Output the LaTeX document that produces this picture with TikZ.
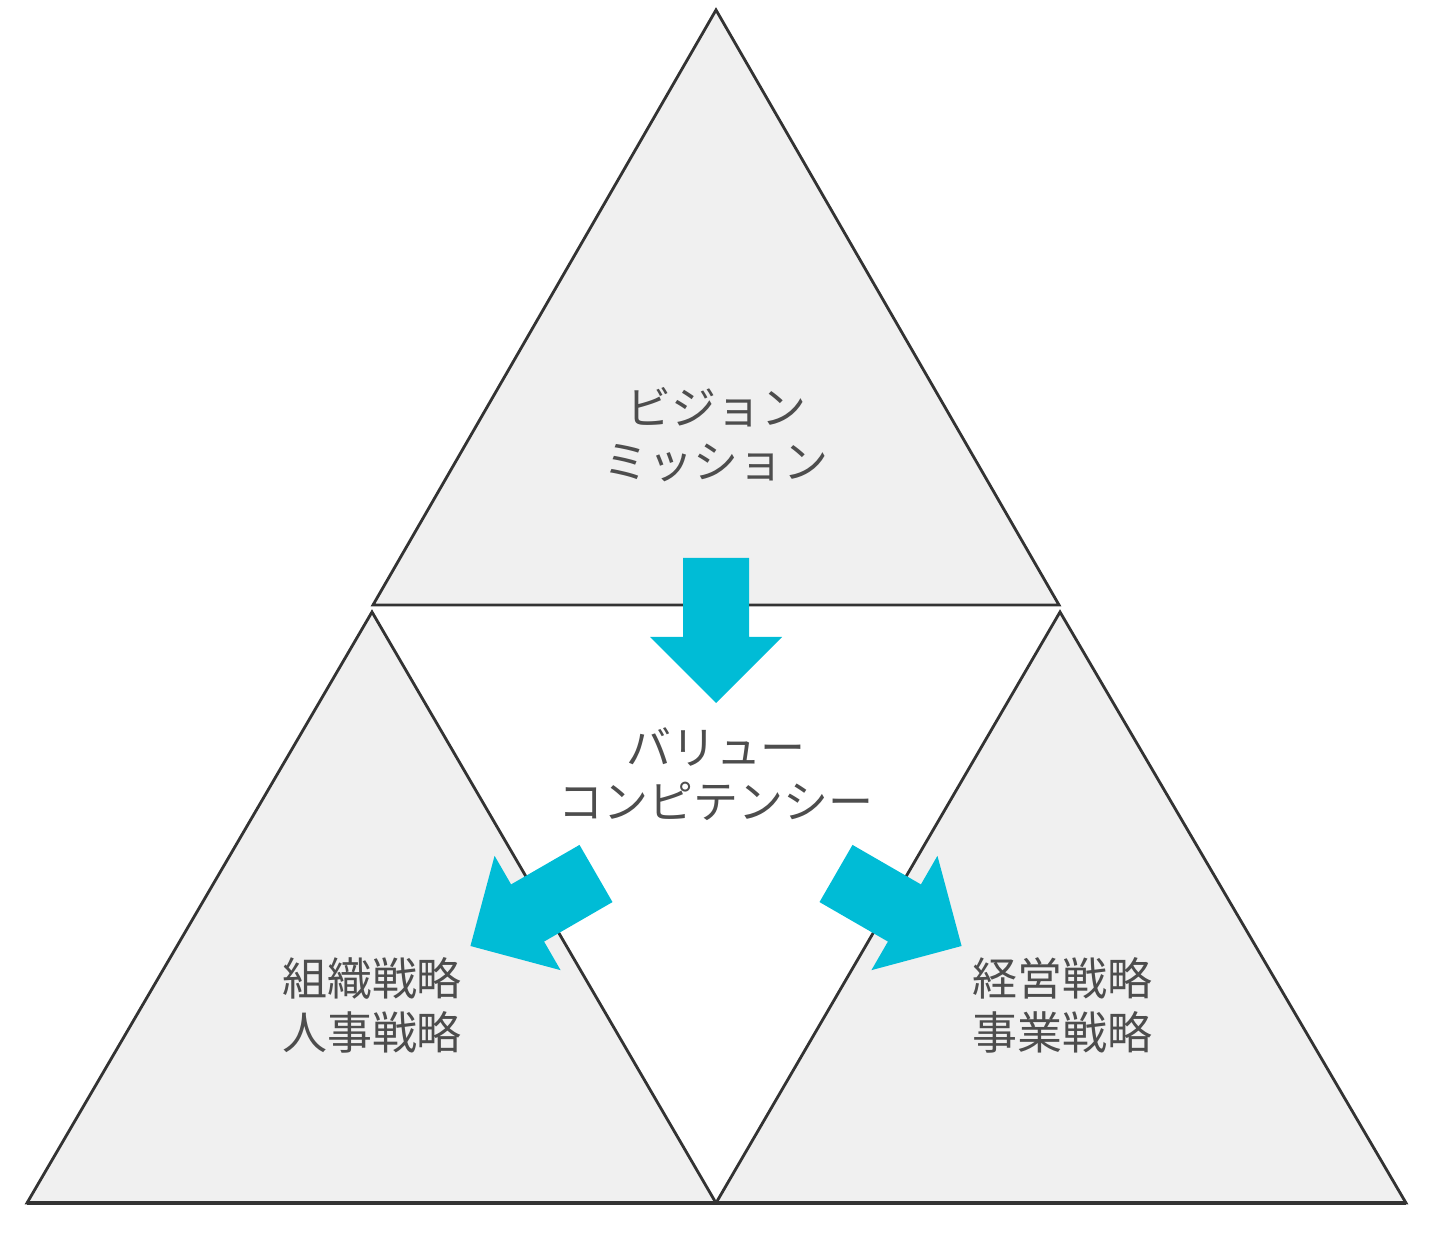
\documentclass[tikz,border=0pt]{standalone}
\usepackage{fontspec}
\newfontfamily\jpfont{Noto Sans CJK JP}
\usepackage{tikz}

\definecolor{tricyan}{HTML}{00BCD6}
\definecolor{trigrey}{HTML}{F0F0F0}
\definecolor{triline}{HTML}{333333}
\definecolor{labelgrey}{HTML}{4D4D4D}

\tikzset{
  tri/.style={fill=trigrey, draw=triline, line width=0.8pt},
  lbl/.style={align=center, text=labelgrey, font=\jpfont\fontsize{12.8}{15.4}\selectfont},
  pics/fatarrow/.style={code={
    \fill[tricyan] (0,-33) -- (79,-33) -- (79,-66) -- (145,0) -- (79,66) -- (79,33) -- (0,33) -- cycle;
  }}
}

\begin{document}
\begin{tikzpicture}[x=0.1mm,y=0.1mm]
\useasboundingbox (0,0) rectangle (1440,1258);
% corners of the three triangles
\coordinate (apex) at (716,1248);
\coordinate (tl) at (373,653);
\coordinate (tr) at (1059,653);
\coordinate (la) at (372,646);
\coordinate (ra) at (1060,646);
\coordinate (bl) at (27,55);
\coordinate (bm) at (716,55);
\coordinate (br) at (1406,55);
\draw[tri] (apex) -- (tl) -- (tr) -- cycle;
\draw[tri] (la) -- (bl) -- (bm) -- cycle;
\draw[tri] (ra) -- (bm) -- (br) -- cycle;
\draw[triline, line width=1.3pt] (bl) -- (br);
% labels
\node[lbl] (vision) at (716,823) {ビジョン\\ミッション};
\node[lbl] (value) at (716,484) {バリュー\\コンピテンシー};
\node[lbl] (org) at (372,253) {組織戦略\\人事戦略};
\node[lbl] (biz) at (1062,253) {経営戦略\\事業戦略};
% arrows
\pic[rotate=-90] at (716,700) {fatarrow};
\pic[rotate=210] at (596,384.5) {fatarrow};
\pic[rotate=-30] at (836,384.5) {fatarrow};
\end{tikzpicture}
\end{document}
